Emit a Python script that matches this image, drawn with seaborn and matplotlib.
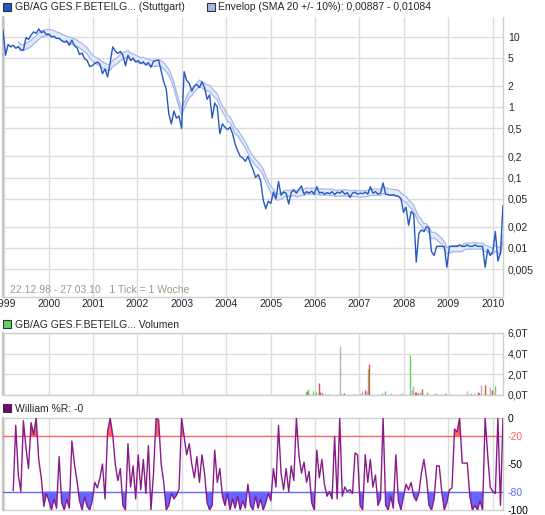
import numpy as np
import pandas as pd
import matplotlib
matplotlib.use("Agg")
import matplotlib.pyplot as plt
from matplotlib.patches import Rectangle
from matplotlib.ticker import NullLocator
import seaborn as sns

sns.set_style("white")
plt.rcParams['font.family'] = ['Liberation Sans', 'DejaVu Sans']

# ---------------- data ----------------
start_date = "1998-12-22"
end_date = "2010-03-27"

price = [
    12.5, 5.5, 7.8, 7.2, 7.6, 6.9, 7.3, 6.6, 6.5, 9.8,
    9.2, 10.6, 11.8, 11.2, 13.0, 11.5, 12.0, 10.8, 11.0, 10.0,
    10.2, 9.5, 9.6, 8.8, 8.4, 8.8, 7.6, 9.0, 7.5, 7.0,
    5.6, 5.9, 4.9, 4.6, 3.8, 3.9, 4.2, 4.4, 4.1, 3.0,
    3.5, 2.7, 4.3, 7.2, 6.3, 5.8, 6.2, 5.5, 3.9, 5.5,
    4.6, 5.0, 4.4, 4.6, 4.2, 4.4, 4.0, 4.3, 3.7, 4.5,
    4.6, 4.7, 3.3, 2.3, 1.8, 0.8, 0.58, 0.88, 0.7, 0.75,
    0.5, 3.2, 2.4, 2.2, 1.7, 2.0, 2.1, 1.9, 2.3, 1.9,
    1.3, 1.5, 0.7, 1.15, 1.0, 0.42, 0.58, 0.52, 0.48, 0.52,
    0.42, 0.3, 0.24, 0.2, 0.19, 0.17, 0.2, 0.16, 0.13, 0.1,
    0.11, 0.09, 0.048, 0.036, 0.046, 0.043, 0.062, 0.05, 0.088, 0.056,
    0.062, 0.06, 0.042, 0.062, 0.066, 0.06, 0.068, 0.076, 0.058, 0.063,
    0.06, 0.064, 0.058, 0.074, 0.06, 0.062, 0.058, 0.061, 0.059, 0.063,
    0.057, 0.062, 0.06, 0.064, 0.058, 0.061, 0.052, 0.06, 0.062, 0.058,
    0.06, 0.059, 0.062, 0.058, 0.074, 0.06, 0.063, 0.058, 0.06, 0.084,
    0.058, 0.057, 0.056, 0.057, 0.055, 0.054, 0.05, 0.032, 0.038, 0.021,
    0.033, 0.03, 0.0063, 0.016, 0.018, 0.017, 0.02, 0.019, 0.0088, 0.0078,
    0.0105, 0.0105, 0.0105, 0.0104, 0.0053, 0.0105, 0.0105, 0.0105, 0.0105, 0.011,
    0.0105, 0.0105, 0.011, 0.0105, 0.0105, 0.011, 0.0105, 0.0105, 0.0105, 0.0053,
    0.0095, 0.0078, 0.0088, 0.017, 0.0065, 0.0085, 0.04,
]

williams_r = [
    np.nan, np.nan, np.nan, np.nan, -79, -8, -62, -80, -3, -32,
    -55, -5, -18, 0, -45, -65, -96, -82, -90, -100,
    -88, -98, -42, -92, -100, -88, -98, -25, -50, -68,
    -90, -100, -86, -96, -100, -90, -70, -76, -65, -50,
    -88, -15, 0, -18, -50, -68, -55, -95, -100, -28,
    -75, -52, -88, -40, -78, -45, -82, -30, -100, -60,
    0, -2, -50, -70, -100, -95, -82, -88, -84, -77,
    0, -20, -40, -28, -50, -65, -42, -70, -40, -60,
    -92, -100, -95, -35, -70, -55, -85, -95, -82, -100,
    -88, -98, -85, -100, -90, -98, -72, -95, -100, -85,
    -98, -88, -100, -92, -82, -90, -55, -75, -8, -60,
    -78, -55, -80, -52, -68, 0, -40, -60, -48, -70,
    -58, -92, -100, -35, -65, -45, -72, -85, -80, -88,
    -20, -88, 0, -85, -75, -80, -78, -82, -38, -40,
    -95, -100, -40, -70, -45, -75, -62, -95, -88, 0,
    -95, -100, -85, -98, -40, -90, -100, -85, -72, -78,
    -70, -85, -90, -82, -60, -45, -65, -95, -100, -88,
    -52, -52, -80, -100, -92, -78, -76, -12, -15, 0,
    -49, -49, -49, -85, -100, -95, -100, -90, -100, 0,
    -40, -75, -80, -82, 0, -95, 0,
]

vol_dates = [
    "2005-10-17", "2005-10-29", "2005-11-06", "2005-11-22", "2005-12-13",
    "2006-01-10", "2006-01-31", "2006-02-12", "2006-02-28", "2006-03-23",
    "2006-04-15", "2006-05-10", "2006-07-26", "2006-08-11", "2006-08-27",
    "2006-11-06", "2006-11-25", "2007-01-08", "2007-01-22", "2007-02-16",
    "2007-03-04", "2007-03-12", "2007-03-24", "2007-07-08", "2007-07-30",
    "2007-09-17", "2007-10-28", "2007-11-27", "2007-12-16", "2008-02-21",
    "2008-03-09", "2008-03-20", "2008-04-04", "2008-04-12", "2008-04-27",
    "2008-05-12", "2008-05-31", "2008-07-07", "2008-09-08", "2008-09-23",
    "2008-11-05", "2008-12-09", "2008-12-17", "2009-01-15", "2009-06-07",
    "2009-07-04", "2009-08-03", "2009-08-30", "2009-09-08", "2009-09-29",
    "2009-10-27", "2009-11-10", "2009-12-09", "2009-12-23", "2010-01-21",
]
vol_values = [
    0.27, 0.34, 0.6, 0.08, 0.35,
    0.27, 1.13, 0.27, 0.17, 0.07,
    0.12, 0.04, 4.7, 0.1, 0.2,
    0.1, 0.07, 0.2, 0.38, 0.45,
    0.35, 2.5, 3.0, 0.2, 0.34,
    0.2, 0.07, 0.1, 0.2, 3.85,
    0.45, 0.85, 0.25, 0.25, 0.18,
    0.27, 0.6, 0.3, 0.1, 0.2,
    0.1, 0.17, 0.1, 0.07, 0.38,
    0.17, 0.17, 0.27, 0.18, 0.96,
    0.96, 0.08, 0.79, 0.5, 0.85,
]
vol_dir = [
    "up", "down", "up", "flat", "up",
    "up", "down", "down", "down", "flat",
    "up", "flat", "flat", "down", "down",
    "flat", "flat", "flat", "flat", "down",
    "flat", "up", "down", "up", "up",
    "flat", "flat", "flat", "flat", "up",
    "flat", "flat", "down", "down", "down",
    "flat", "down", "up", "down", "up",
    "flat", "flat", "down", "up", "flat",
    "flat", "flat", "down", "down", "flat",
    "down", "up", "flat", "down", "up",
]

years = list(range(1999, 2011))
price_ticks = [10, 5, 2, 1, 0.5, 0.2, 0.1, 0.05, 0.02, 0.01, 0.005]
price_tick_labels = ["10", "5", "2", "1", "0,5", "0,2", "0,1", "0,05", "0,02", "0,01", "0,005"]
vol_ticks = [0, 2, 4, 6]
vol_tick_labels = ["0,0T", "2,0T", "4,0T", "6,0T"]
wr_ticks = [0, -20, -50, -80, -100]
wr_tick_labels = ["0", "-20", "-50", "-80", "-100"]

legend_price = "GB/AG GES.F.BETEILG... (Stuttgart)"
legend_env = "Envelop (SMA 20 +/- 10%): 0,00887 - 0,01084"
legend_vol = "GB/AG GES.F.BETEILG... Volumen"
legend_wr = "William %R: -0"
range_note = "22.12.98 - 27.03.10   1 Tick = 1 Woche"

# ---------------- styling ----------------
C_PRICE = "#2357c2"
C_ENV_LINE = "#a3b7e8"
C_ENV_FILL = "#e3eaf9"
C_GRID = "#dcdcdc"
C_SPINE = "#cfcfcf"
C_UP = "#5fd35f"
C_DOWN = "#e05050"
C_FLAT = "#b4b4b4"
C_WR = "#8a1a8a"
C_RED = "#ff5f5f"
C_BLUE = "#6565ff"
FS = 7.5

W, H = 545, 515
fig = plt.figure(figsize=(W / 100, H / 100), dpi=100)


def box(l, t, r, b):
    return [l / W, 1 - b / H, (r - l) / W, (b - t) / H]


ax1 = fig.add_axes(box(3, 17, 503, 297))
ax2 = fig.add_axes(box(3, 333, 503, 395))
ax3 = fig.add_axes(box(3, 418, 503, 510))

dates = pd.date_range(start_date, end_date, periods=len(price))
df = pd.DataFrame({"date": dates, "price": price, "wr": williams_r})
sma = df["price"].rolling(7).mean()
upper = sma * 1.1
lower = sma * 0.9

year_pos = [pd.Timestamp(f"{y}-01-01") for y in years]
xlim = (pd.Timestamp(start_date), pd.Timestamp(end_date))

# ---- price panel ----
ax1.set_yscale("log")
ax1.fill_between(df["date"], lower, upper, color=C_ENV_FILL, lw=0, zorder=2)
ax1.plot(df["date"], upper, color=C_ENV_LINE, lw=0.9, zorder=3)
ax1.plot(df["date"], lower, color=C_ENV_LINE, lw=0.9, zorder=3)
sns.lineplot(data=df, x="date", y="price", ax=ax1, color=C_PRICE, lw=1.0, zorder=4)
ax1.set_ylim(0.002, 19.2)
ax1.set_yticks(price_ticks)
ax1.set_yticklabels(price_tick_labels)
ax1.yaxis.set_minor_locator(NullLocator())
ax1.set_xticks(year_pos)
ax1.set_xticklabels([str(y) for y in years])
ax1.text(7 / 500, (297 - 290) / 280, range_note, transform=ax1.transAxes,
         fontsize=FS, color="#a39785", va="center", ha="left", zorder=5)

# ---- volume panel ----
vcol = {"up": C_UP, "down": C_DOWN, "flat": C_FLAT}
ax2.vlines(pd.to_datetime(vol_dates), 0, vol_values,
           colors=[vcol[d] for d in vol_dir], lw=1, zorder=3)
ax2.set_ylim(0, 6)
ax2.set_yticks(vol_ticks)
ax2.set_yticklabels(vol_tick_labels)
ax2.set_xticks(year_pos)
ax2.set_xticklabels([])

# ---- williams %R panel ----
wr = df["wr"].to_numpy(dtype=float)
with np.errstate(invalid="ignore"):
    ax3.fill_between(df["date"], wr, -20, where=wr > -20, interpolate=True,
                     color=C_RED, lw=0, zorder=2)
    ax3.fill_between(df["date"], wr, -80, where=wr < -80, interpolate=True,
                     color=C_BLUE, lw=0, zorder=2)
ax3.axhline(-20, color=C_RED, lw=1, zorder=3)
ax3.axhline(-80, color=C_BLUE, lw=1, zorder=3)
sns.lineplot(data=df, x="date", y="wr", ax=ax3, color=C_WR, lw=1, zorder=4)
ax3.set_ylim(-100, 0)
ax3.set_yticks(wr_ticks)
ax3.set_yticklabels(wr_tick_labels)
ax3.set_xticks(year_pos)
ax3.set_xticklabels([])

for ax in (ax1, ax2, ax3):
    ax.set_xlim(xlim)
    ax.set_xlabel("")
    ax.set_ylabel("")
    ax.yaxis.tick_right()
    ax.tick_params(axis="y", length=0, pad=3.5, labelsize=FS)
    ax.tick_params(axis="x", length=0, pad=1.5, labelsize=FS)
    ax.grid(True, color=C_GRID, lw=1, zorder=0)
    ax.set_axisbelow(True)
    for s in ax.spines.values():
        s.set_color(C_SPINE)
        s.set_linewidth(1)
    ax.spines["left"].set_linewidth(1.6)
    ax.spines["left"].set_color("#c4c4c4")
    ax.set_facecolor("white")

ax1.spines["top"].set_visible(False)
ax3.grid(False, axis="y")

wr_colors = ["black", C_RED, "black", C_BLUE, "black"]
for lbl, c in zip(ax3.get_yticklabels(), wr_colors):
    lbl.set_color(c)


# ---- legends ----
def legend_item(x, y_top, color, text, tx):
    fig.patches.append(Rectangle((x / W, 1 - (y_top + 8) / H), 8 / W, 8 / H,
                                 transform=fig.transFigure, facecolor=color,
                                 edgecolor="#333333", lw=0.8))
    fig.text(tx / W, 1 - (y_top + 4.5) / H, text, fontsize=FS, va="center", ha="left")


legend_item(3, 3, C_PRICE, legend_price, 15)
legend_item(207, 3, C_ENV_LINE, legend_env, 218)
legend_item(3, 320, C_UP, legend_vol, 15)
legend_item(3, 404, "#800080", legend_wr, 15)

fig.savefig("out.png", dpi=100)
